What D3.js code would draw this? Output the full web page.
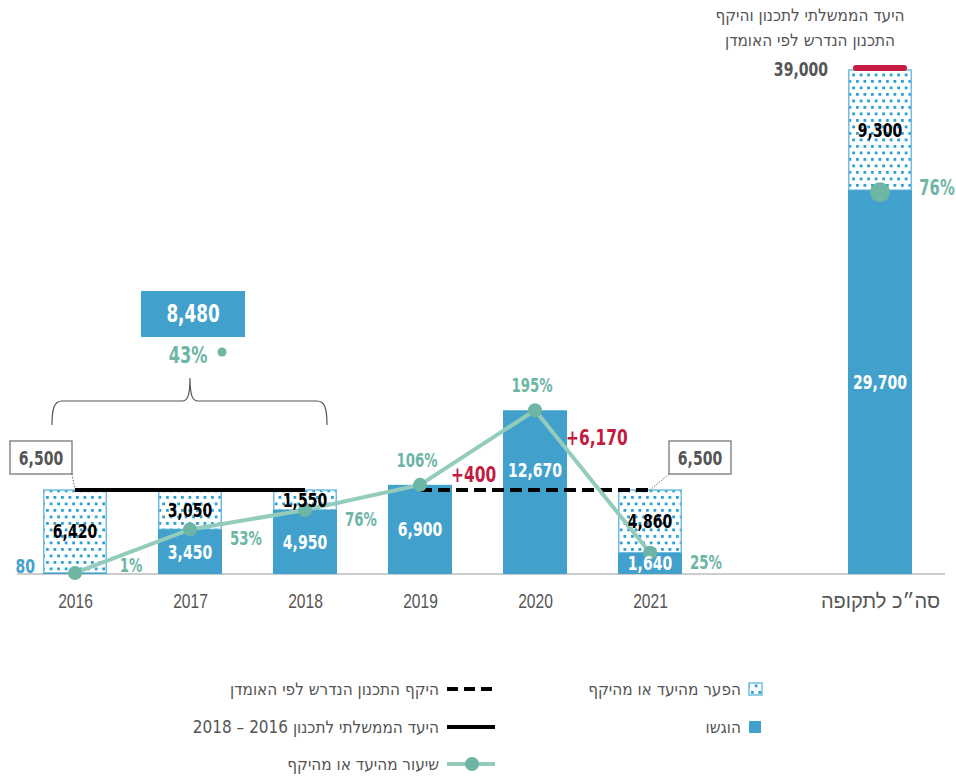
<!DOCTYPE html>
<html lang="he">
<head>
<meta charset="utf-8">
<script src="https://cdn.jsdelivr.net/npm/d3@7"></script>
<style>
  html, body { margin: 0; padding: 0; background: #fff; }
  svg { display: block; font-family: 'DejaVu Sans Condensed', 'DejaVu Sans', sans-serif; }
  .rtl { direction: rtl; unicode-bidi: embed; }
</style>
</head>
<body>
<svg id="chart" width="956" height="776"></svg>
<script>
// yearly data
const years = ['2016', '2017', '2018', '2019', '2020', '2021']
const submitted = [80, 3450, 4950, 6900, 12670, 1640]
const gap = [6420, 3050, 1550, 0, 0, 4860]
const ratePct = [1, 53, 76, 106, 195, 25]
const excess = [0, 0, 0, 400, 6170, 0]
const targetValue = 6500

// whole period
const totalKey = 'סה״כ לתקופה'
const totalSubmitted = 29700
const totalGap = 9300
const totalTarget = 39000
const totalRate = 76

// 2016-2018 summary
const periodSubmitted = 8480
const periodRate = 43

const titleLines = ['היעד הממשלתי לתכנון והיקף', 'התכנון הנדרש לפי האומדן']
const legendRight = ['הפער מהיעד או מהיקף', 'הוגשו']
const legendLeft = ['היקף התכנון הנדרש לפי האומדן', 'היעד הממשלתי לתכנון  2016 – 2018', 'שיעור מהיעד או מהיקף']

const BLUE = '#42a1cc'
const TEAL = '#6db5a4'
const TEAL_LINE = '#93ccbb'
const RED = '#c31b41'
const GRAY = '#555'
const SX = 0.78 // squeeze numbers to look like the condensed face

const svg = d3.select('#chart')
const baseY = 574

const x = d3.scalePoint()
  .domain([...years, '', totalKey])
  .range([75, 880])
const y = d3.scaleLinear()
  .domain([0, totalTarget])
  .range([baseY, 70])
const barW = 64
const fmt = d3.format(',')

// condensed number text at (px, py)
function num(parent, px, py, txt, size, fill, anchor = 'middle') {
  return parent.append('text')
    .attr('transform', `translate(${px},${py}) scale(${SX},1)`)
    .attr('text-anchor', anchor)
    .attr('font-size', size).attr('font-weight', 'bold')
    .attr('fill', fill)
    .text(txt)
}

// dotted pattern for the gap
const defs = svg.append('defs')
const pat = defs.append('pattern')
  .attr('id', 'dots')
  .attr('patternUnits', 'userSpaceOnUse')
  .attr('width', 7.5)
  .attr('height', 13)
pat.append('rect').attr('width', 7.5).attr('height', 13).attr('fill', '#fff')
pat.append('rect').attr('x', 1).attr('y', 2).attr('width', 2.8).attr('height', 2.8).attr('fill', '#2c9fd2')
pat.append('rect').attr('x', 4.75).attr('y', 8.5).attr('width', 2.8).attr('height', 2.8).attr('fill', '#2c9fd2')

const rows = years.map((yr, i) => ({
  key: yr, sub: submitted[i], gap: gap[i], rate: ratePct[i], excess: excess[i]
}))
const allBars = [...rows, { key: totalKey, sub: totalSubmitted, gap: totalGap, rate: totalRate, excess: 0 }]

// baseline
svg.append('line')
  .attr('x1', 17).attr('x2', 945)
  .attr('y1', baseY).attr('y2', baseY)
  .attr('stroke', '#999').attr('stroke-width', 1.2)

// gap bars (pattern)
svg.append('g').selectAll('rect')
  .data(allBars.filter(d => d.gap > 0))
  .join('rect')
  .attr('x', d => x(d.key) - barW / 2 + 0.75)
  .attr('y', d => y(d.sub + d.gap))
  .attr('width', barW - 1.5)
  .attr('height', d => y(d.sub) - y(d.sub + d.gap))
  .attr('fill', 'url(#dots)')
  .attr('stroke', '#72bde0')
  .attr('stroke-width', 1.5)

// submitted bars
svg.append('g').selectAll('rect')
  .data(allBars)
  .join('rect')
  .attr('x', d => x(d.key) - barW / 2)
  .attr('y', d => y(d.sub))
  .attr('width', barW)
  .attr('height', d => baseY - y(d.sub))
  .attr('fill', BLUE)

// target line 2016-2018 (solid) and estimate 2019-2021 (dashed)
svg.append('line')
  .attr('x1', x('2016')).attr('x2', x('2018'))
  .attr('y1', y(targetValue)).attr('y2', y(targetValue))
  .attr('stroke', '#000').attr('stroke-width', 4)
svg.append('line')
  .attr('x1', x('2019')).attr('x2', x('2021'))
  .attr('y1', y(targetValue)).attr('y2', y(targetValue))
  .attr('stroke', '#000').attr('stroke-width', 4)
  .attr('stroke-dasharray', '12,6')

// red cap on total bar
svg.append('line')
  .attr('x1', x(totalKey) - 24).attr('x2', x(totalKey) + 24)
  .attr('y1', y(totalTarget) - 2).attr('y2', y(totalTarget) - 2)
  .attr('stroke', RED).attr('stroke-width', 6).attr('stroke-linecap', 'round')

// callout boxes for 6,500
const callouts = [
  { bx: 10, anchor: x('2016'), side: 'right' },
  { bx: 669, anchor: x('2021'), side: 'left' }
]
callouts.forEach(c => {
  const bw = 62, bh = 33, by = 441
  svg.append('line')
    .attr('x1', c.side === 'right' ? c.bx + bw : c.bx)
    .attr('y1', by + bh)
    .attr('x2', c.anchor).attr('y2', y(targetValue))
    .attr('stroke', '#666').attr('stroke-width', 1).attr('stroke-dasharray', '1.5,1.5')
  svg.append('rect')
    .attr('x', c.bx).attr('y', by).attr('width', bw).attr('height', bh)
    .attr('fill', '#fff').attr('stroke', '#777').attr('stroke-width', 1.3)
  num(svg, c.bx + bw / 2, by + bh / 2 + 7, fmt(targetValue), 20, GRAY)
})

// rate line
const rateLine = d3.line().x(d => x(d.key)).y(d => y(d.sub))
svg.append('path')
  .datum(rows)
  .attr('d', rateLine)
  .attr('fill', 'none')
  .attr('stroke', TEAL_LINE)
  .attr('stroke-width', 4)
svg.append('g').selectAll('circle')
  .data(rows)
  .join('circle')
  .attr('cx', d => x(d.key))
  .attr('cy', d => y(d.sub))
  .attr('r', 7)
  .attr('fill', TEAL)

// submitted values
const gLab = svg.append('g')
allBars.forEach(d => {
  const h = baseY - y(d.sub)
  if (h < 15) {
    num(gLab, x(d.key) - barW / 2 - 8, baseY - 1, fmt(d.sub), 20, BLUE, 'end')
  } else {
    let ly = (y(d.sub) + baseY) / 2 + 7
    if (d.excess > 1000) ly = y(targetValue) - 13
    num(gLab, x(d.key), ly, fmt(d.sub), 20, '#fff')
  }
})

// gap values
allBars.filter(d => d.gap > 0).forEach(d => {
  num(gLab, x(d.key), (y(d.sub) + y(d.sub + d.gap)) / 2 + 7, fmt(d.gap), 20, '#000')
})

// rate labels
rows.forEach(d => {
  if (d.excess > 0) {
    num(gLab, x(d.key) - 3, y(d.sub) - 18, d.rate + '%', 19, TEAL)
  } else {
    num(gLab, x(d.key) + 56, Math.min(y(d.sub) + 16, baseY - 2), d.rate + '%', 19, TEAL)
  }
})

// excess above the estimate
rows.filter(d => d.excess > 0).forEach(d => {
  num(gLab, x(d.key) + 31, (y(d.sub) + y(targetValue)) / 2 - 5, '+' + fmt(d.excess), 22, RED, 'start')
})

// total: dot + rate
svg.append('circle')
  .attr('cx', x(totalKey)).attr('cy', y(totalSubmitted) + 2)
  .attr('r', 10).attr('fill', TEAL)
num(svg, x(totalKey) + 57, y(totalSubmitted) + 5, totalRate + '%', 21, TEAL)

// total target label
num(svg, x(totalKey) - 52, y(totalTarget) + 6, fmt(totalTarget), 20, GRAY, 'end')

// title top right
svg.append('g').selectAll('text')
  .data(titleLines)
  .join('text')
  .attr('x', 810)
  .attr('y', (d, i) => 21 + i * 25)
  .attr('text-anchor', 'middle')
  .attr('class', 'rtl')
  .attr('font-size', 17).attr('fill', GRAY)
  .text(d => d)

// x axis labels
const xAxis = d3.axisBottom(x).tickSize(0).tickPadding(20)
const gx = svg.append('g')
  .attr('transform', `translate(0,${baseY})`)
  .call(xAxis)
gx.select('.domain').remove()
gx.selectAll('text')
  .attr('font-family', null)
  .attr('font-size', d => d === totalKey ? 20 : 20)
  .attr('fill', GRAY)
  .attr('class', 'rtl')
  .attr('transform', d => d === totalKey ? null : `scale(${SX},1)`)

// brace for 2016-2018
const bx0 = x('2016') - 23, bx1 = x('2018') + 22, bm = x('2017')
const bTop = 401, bBot = 425, bTip = 378
svg.append('path')
  .attr('d', `M${bx0},${bBot} C${bx0},${bTop + 8} ${bx0 + 2},${bTop} ${bx0 + 10},${bTop}
    L${bm - 8},${bTop} C${bm - 3},${bTop} ${bm},${bTop - 4} ${bm},${bTip}
    C${bm},${bTop - 4} ${bm + 3},${bTop} ${bm + 8},${bTop}
    L${bx1 - 10},${bTop} C${bx1 - 2},${bTop} ${bx1},${bTop + 8} ${bx1},${bBot}`)
  .attr('fill', 'none').attr('stroke', GRAY).attr('stroke-width', 1.2)

svg.append('rect')
  .attr('x', bm - 49).attr('y', 291).attr('width', 104).attr('height', 46)
  .attr('fill', BLUE)
num(svg, bm + 3, 322, fmt(periodSubmitted), 24, '#fff')
num(svg, bm - 2, 363, periodRate + '%', 23, TEAL)
svg.append('circle')
  .attr('cx', bm + 32).attr('cy', 352).attr('r', 4.5).attr('fill', TEAL)

// legend
const legY = [689, 727, 764]
const lg = svg.append('g')
// right column
lg.append('rect')
  .attr('x', 749).attr('y', legY[0] - 6).attr('width', 13).attr('height', 12)
  .attr('fill', 'url(#dots)').attr('stroke', '#72bde0').attr('stroke-width', 1.5)
lg.append('rect')
  .attr('x', 749).attr('y', legY[1] - 6).attr('width', 12).attr('height', 12)
  .attr('fill', BLUE)
legendRight.forEach((t, i) => {
  lg.append('text')
    .attr('x', 741).attr('y', legY[i] + 6)
    .attr('class', 'rtl').attr('text-anchor', 'start')
    .attr('font-size', 17).attr('fill', GRAY)
    .text(t)
})
// left column
lg.append('line')
  .attr('x1', 447).attr('x2', 495).attr('y1', legY[0]).attr('y2', legY[0])
  .attr('stroke', '#000').attr('stroke-width', 4).attr('stroke-dasharray', '11,6')
lg.append('line')
  .attr('x1', 447).attr('x2', 495).attr('y1', legY[1]).attr('y2', legY[1])
  .attr('stroke', '#000').attr('stroke-width', 4)
lg.append('line')
  .attr('x1', 447).attr('x2', 495).attr('y1', legY[2]).attr('y2', legY[2])
  .attr('stroke', TEAL_LINE).attr('stroke-width', 4)
lg.append('circle')
  .attr('cx', 472).attr('cy', legY[2]).attr('r', 7).attr('fill', TEAL)
legendLeft.forEach((t, i) => {
  lg.append('text')
    .attr('x', 439).attr('y', legY[i] + 6)
    .attr('class', 'rtl').attr('text-anchor', 'start')
    .attr('font-size', 17).attr('fill', GRAY)
    .text(t)
})
</script>
</body>
</html>
